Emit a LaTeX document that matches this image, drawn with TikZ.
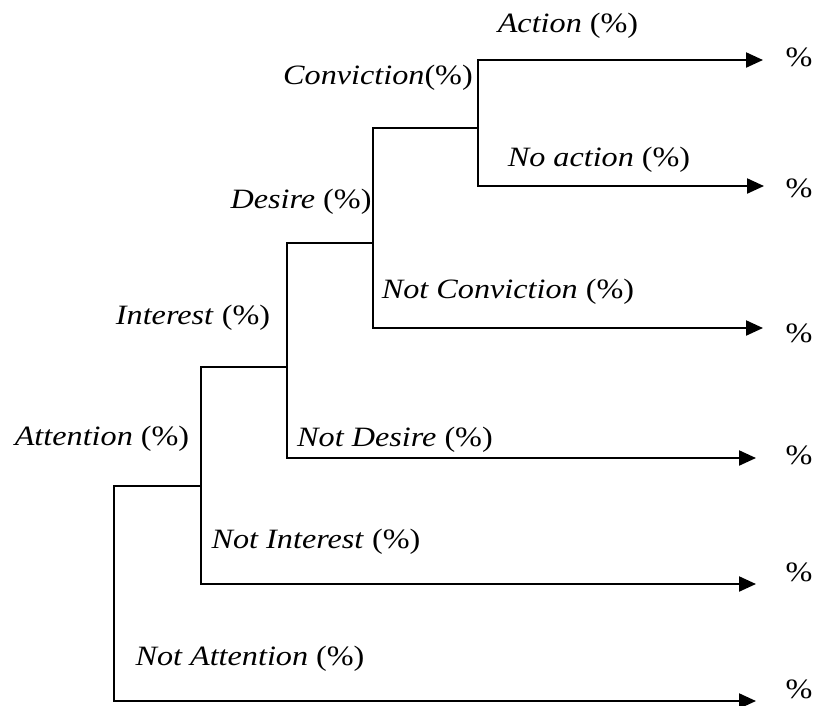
\documentclass[tikz,border=0pt]{standalone}
\usepackage{fontspec}
\setmainfont{Liberation Serif}[FakeStretch=1.15]
\usepackage{tikz}
\usetikzlibrary{arrows.meta, positioning}
\tikzset{
    flow/.style={line width=2.2pt, line join=miter, -{Triangle[length=17pt, width=15pt]}},
    lab/.style={inner sep=0pt, font=\fontsize{28}{34}\selectfont},
    pct/.style={inner sep=0pt, font=\fontsize{28}{34}\selectfont}
}

\begin{document}
\begin{tikzpicture}[x=1pt, y=-1pt]

    \useasboundingbox (0,0) rectangle (814,705);

    % branch points
    \coordinate (aJ) at (201,486);
    \coordinate (aB) at (114,701);
    \coordinate (iJ) at (287,367);
    \coordinate (iB) at (201,584);
    \coordinate (dJ) at (373,243);
    \coordinate (dB) at (287,458);
    \coordinate (cJ) at (478,128);
    \coordinate (cB) at (373,328);
    \coordinate (xB) at (478,186);

    % arrow tips
    \coordinate (tAct) at (763,60);
    \coordinate (tNo) at (764,186);
    \coordinate (tNC) at (763,328);
    \coordinate (tND) at (756,458);
    \coordinate (tNI) at (756,584);
    \coordinate (tNA) at (756,701);

    \draw[flow] (aJ) -| (aB) -- (tNA);
    \draw[flow] (iJ) -| (iB) -- (tNI);
    \draw[flow] (dJ) -| (dB) -- (tND);
    \draw[flow] (cJ) -| (cB) -- (tNC);
    \draw[flow] (xB) |- (tAct);
    \draw[flow] (cJ) |- (tNo);

    % labels
    \node[lab] (lAct) at (568,26) {\textit{Action} (\%)};
    \node[lab] (lCon) at (378,78) {\textit{Conviction}(\%)};
    \node[lab] (lNo) at (599,160) {\textit{No action} (\%)};
    \node[lab] (lDes) at (301,202) {\textit{Desire} (\%)};
    \node[lab] (lNC) at (508,292) {\textit{Not Conviction} (\%)};
    \node[lab] (lInt) at (193,318) {\textit{Interest} (\%)};
    \node[lab] (lND) at (395,440) {\textit{Not Desire} (\%)};
    \node[lab] (lAtt) at (102,439) {\textit{Attention} (\%)};
    \node[lab] (lNI) at (316,542) {\textit{Not Interest} (\%)};
    \node[lab] (lNA) at (250,659) {\textit{Not Attention} (\%)};

    % outcomes
    \node[pct] (pAct) at (799,57) {\%};
    \node[pct] (pNo) at (799,188) {\%};
    \node[pct] (pNC) at (799,333) {\%};
    \node[pct] (pND) at (799,455) {\%};
    \node[pct] (pNI) at (799,572) {\%};
    \node[pct] (pNA) at (799,689) {\%};
\end{tikzpicture}
\end{document}
